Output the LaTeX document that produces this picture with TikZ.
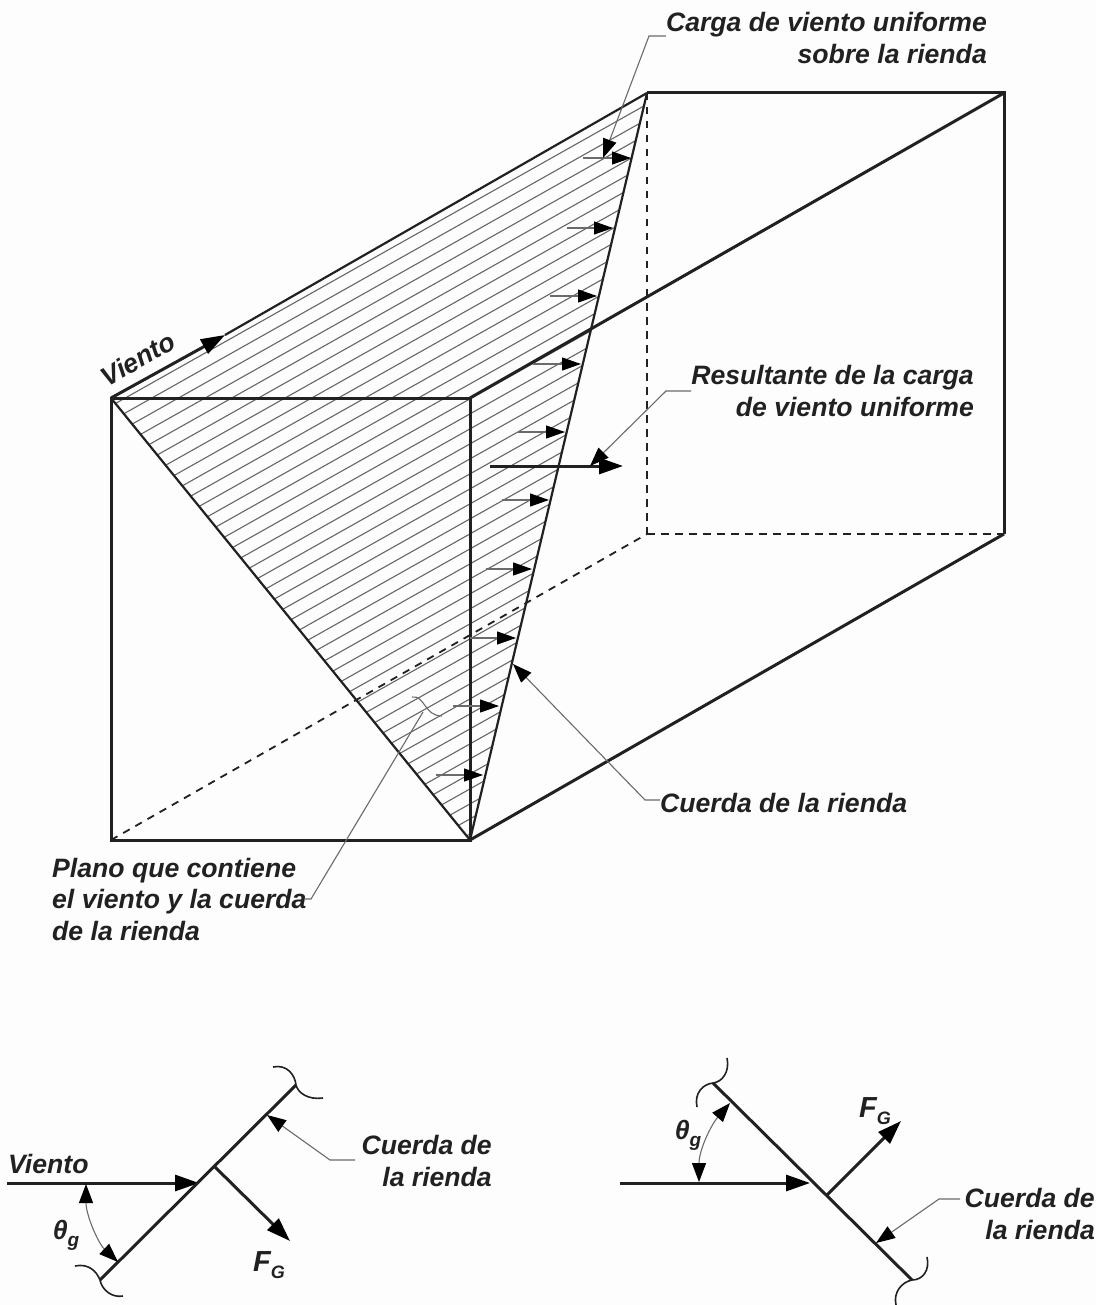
\documentclass[tikz,border=0pt]{standalone}
\usepackage{fontspec}
\setmainfont{Liberation Sans}
\usetikzlibrary{arrows.meta}
\definecolor{ink}{gray}{0.13}
\definecolor{leaderc}{gray}{0.42}
\definecolor{hatchc}{gray}{0.40}
\definecolor{paper}{gray}{0.992}
\tikzset{
  x=1pt,y=-1pt,
  lbl/.style={font=\fontsize{26.6}{31.5}\selectfont\bfseries\itshape,text=ink,inner sep=0pt,align=right},
  sym/.style={font=\fontsize{29}{31}\selectfont\bfseries\itshape,text=ink,inner sep=0pt},
  edge/.style={draw=ink,line width=3pt},
  thinedge/.style={draw=ink,line width=2.2pt},
  hid/.style={draw=ink,line width=1.8pt,dash pattern=on 7.5pt off 6.5pt},
  hatchl/.style={draw=hatchc,line width=1.1pt},
  load/.style={draw=leaderc,line width=1.1pt,-{Triangle[length=19pt,width=13pt,color=black]}},
  leader/.style={draw=leaderc,line width=1.1pt,-{Triangle[length=19pt,width=14pt,color=black]}},
  force/.style={draw=ink,line width=3pt,-{Triangle[length=24pt,width=16pt,color=black]}},
  curl/.style={draw=ink,line width=1.6pt},
  twoway/.style={draw=leaderc,line width=1.1pt,{Triangle[length=19pt,width=14pt,color=black]}-{Triangle[length=19pt,width=14pt,color=black]}}
}
\begin{document}
\begin{tikzpicture}
\useasboundingbox (0,0) rectangle (1096,1305);
\fill[paper] (0,0) rectangle (1096,1305);
% box corners
\coordinate (A) at (111,398);
\coordinate (B) at (470,398);
\coordinate (C) at (470,840);
\coordinate (D) at (111,840);
\coordinate (E) at (647,93);
\coordinate (F) at (1004,93);
\coordinate (G) at (1004,534);
\coordinate (H) at (647,534);
\coordinate (Vtip) at (225,335);
% hidden edges
\draw[hid] (D) -- (H);
\draw[hid] (E) -- (H);
\draw[hid] (H) -- (G);
% hatching
\begin{scope}
\clip (A) -- (E) -- (C) -- cycle;
\foreach \k in {0,...,46}{
  \draw[hatchl] (100,{397.2+\k*15}) -- (660,{397.2-0.563*560+\k*15});
}
\end{scope}
% solid edges
\draw[edge] (A) -- (B) -- (C) -- (D) -- cycle;
\draw[thinedge] (Vtip) -- (E);
\draw[edge] (E) -- (F) -- (G);
\draw[edge] (B) -- (F);
\draw[edge] (C) -- (G);
\draw[thinedge] (A) -- (C);
\draw[thinedge] (E) -- (C);
\draw[force] (A) -- (Vtip);
% uniform load arrows
\foreach \n/\y/\xa/\xb in {1/158/583/631,2/228/567/613,3/296/550/597,4/364/533/581,5/432/518/565,6/500/502/549,7/569/486/532,8/638/470/516,9/706/453/499,10/775/436/483}{
  \coordinate (ls\n) at (\xa,\y);
  \coordinate (le\n) at (\xb,\y);
  \draw[load] (ls\n) -- (le\n);
}
% resultant
\coordinate (Rs) at (490,466);
\coordinate (Re) at (623,466);
\draw[force] (Rs) -- (Re);
% labels of main figure
\node[lbl,anchor=east] (carga) at (987,38) {Carga de viento uniforme\\sobre la rienda};
\node[lbl,anchor=east] (result) at (974,391) {Resultante de la carga\\de viento uniforme};
\node[lbl,anchor=west] (cuerda) at (660,803) {Cuerda de la rienda};
\node[lbl,anchor=west,align=left] (plano) at (52,899) {Plano que contiene\\el viento y la cuerda\\de la rienda};
\node[lbl,rotate=29.6] (vto) at (138,359) {Viento};
% leaders
\coordinate (c1) at (649,36);
\coordinate (c2) at (603,158);
\draw[leader] (carga.west |- c1) -- (c1) -- (c2);
\coordinate (r1) at (666,391);
\coordinate (r2) at (590,466);
\draw[leader] (result.west) -- (r1) -- (r2);
\coordinate (q1) at (645,800);
\coordinate (q2) at (513,664);
\draw[leader] (cuerda.west |- q1) -- (q1) -- (q2);
\coordinate (p0) at (304,899);
\coordinate (p1) at (311,899);
\coordinate (p2) at (423,712);
\coordinate (p3) at (412,697);
\coordinate (p4) at (442,716);
\draw[leaderc,line width=1.1pt] (p0) -- (p1) -- (p2);
\draw[leaderc,line width=1.1pt] (p3) .. controls (425,695) and (424,716) .. (p4);
% bottom-left detail
\coordinate (w1) at (7,1183);
\coordinate (w2) at (199,1183);
\coordinate (r1a) at (100,1280);
\coordinate (r1b) at (296,1085);
\coordinate (f1a) at (215,1167);
\coordinate (f1b) at (290,1241);
\draw[force] (w1) -- (w2);
\draw[edge] (r1a) -- (r1b);
\draw[force] (f1a) -- (f1b);
\coordinate (cu1) at (273,1067);
\coordinate (cu2) at (323,1098);
\coordinate (cu3) at (75,1266);
\coordinate (cu4) at (123,1296);
\draw[curl] (cu1) .. controls (287,1064) and (295,1075) .. (r1b) .. controls (298,1093) and (308,1100) .. (cu2);
\draw[curl] (cu3) .. controls (89,1263) and (97,1272) .. (r1a) .. controls (102,1290) and (112,1298) .. (cu4);
\coordinate (t1) at (86,1184);
\coordinate (t2) at (118,1262);
\draw[twoway] (t1) .. controls (86,1215) and (98,1243) .. (t2);
\node[lbl,anchor=east] (c1lbl) at (492,1161) {Cuerda de\\la rienda};
\node[lbl,anchor=west] (v1lbl) at (8,1164) {Viento};
\coordinate (l1a) at (355,1160);
\coordinate (l1b) at (330,1160);
\coordinate (l1c) at (267,1115);
\draw[leader] (l1a) -- (l1b) -- (l1c);
\node[lbl] (th1) at (66,1235) {θ\raisebox{-7pt}{\fontsize{19}{20}\selectfont g}};
\node[sym] (fg1) at (269,1265) {F\raisebox{-7pt}{\fontsize{18}{20}\selectfont G}};
% bottom-right detail
\coordinate (w3) at (620,1183);
\coordinate (w4) at (810,1183);
\coordinate (r2a) at (713,1083);
\coordinate (r2b) at (912,1280);
\coordinate (f2a) at (827,1195);
\coordinate (f2b) at (901,1121);
\draw[force] (w3) -- (w4);
\draw[edge] (r2a) -- (r2b);
\draw[force] (f2a) -- (f2b);
\coordinate (cu5) at (727,1058);
\coordinate (cu6) at (697,1107);
\coordinate (cu7) at (927,1257);
\coordinate (cu8) at (896,1305);
\draw[curl] (cu5) .. controls (730,1072) and (722,1082) .. (r2a) .. controls (703,1084) and (694,1093) .. (cu6);
\draw[curl] (cu7) .. controls (930,1270) and (923,1280) .. (r2b) .. controls (902,1282) and (893,1292) .. (cu8);
\coordinate (t3) at (699,1182);
\coordinate (t4) at (730,1103);
\draw[twoway] (t3) .. controls (699,1150) and (711,1125) .. (t4);
\node[lbl,anchor=east] (c2lbl) at (1095,1214) {Cuerda de\\la rienda};
\coordinate (l2a) at (960,1199);
\coordinate (l2b) at (939,1199);
\coordinate (l2c) at (876,1243);
\draw[leader] (l2a) -- (l2b) -- (l2c);
\node[lbl] (th2) at (688,1135) {θ\raisebox{-7pt}{\fontsize{19}{20}\selectfont g}};
\node[sym] (fg2) at (875,1111) {F\raisebox{-7pt}{\fontsize{18}{20}\selectfont G}};
\end{tikzpicture}
\end{document}
